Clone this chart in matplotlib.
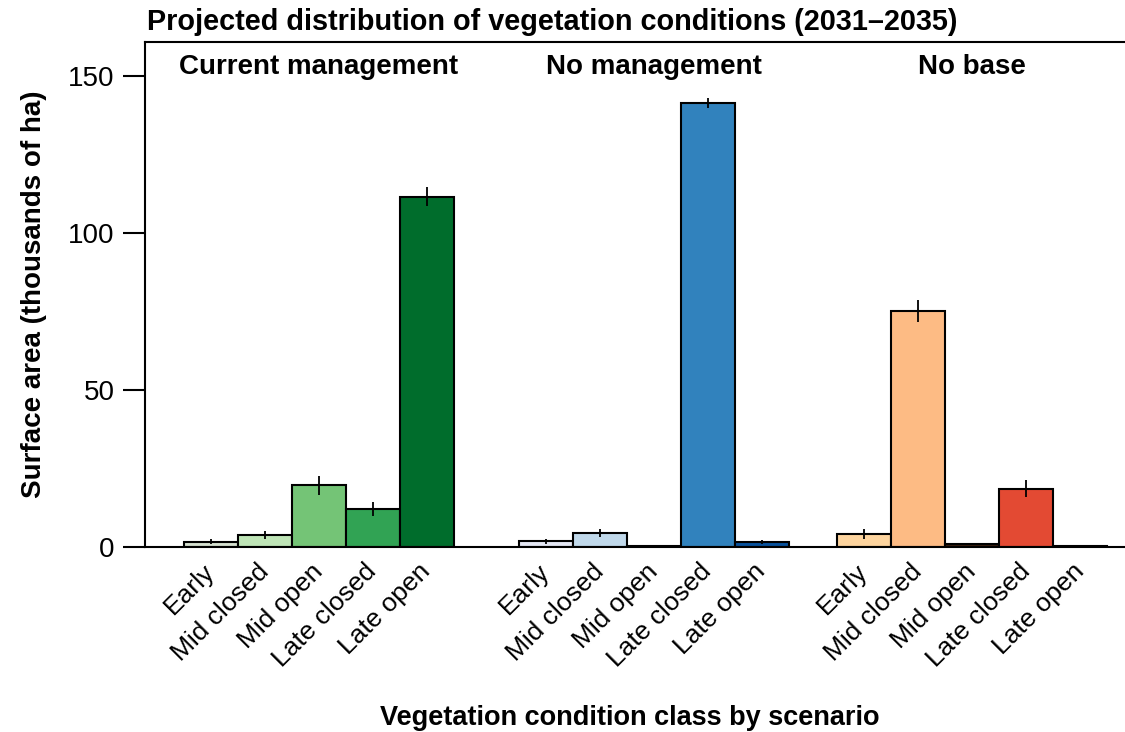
import matplotlib
matplotlib.use("Agg")
import matplotlib.pyplot as plt
import numpy as np

plt.rcParams['font.family'] = ['Liberation Sans', 'DejaVu Sans']

classes = ["Early", "Mid closed", "Mid open", "Late closed", "Late open"]
scenarios = ["Current management", "No management", "No base"]

# surface area (thousands of ha) and error half-widths
current_mgmt = [1.6, 3.8, 19.7, 12.1, 111.5]
current_err = [0.8, 1.3, 3.0, 2.2, 3.0]
no_mgmt = [1.8, 4.5, 0.3, 141.4, 1.6]
no_mgmt_err = [0.8, 1.2, 0.2, 1.5, 0.5]
no_base = [4.1, 75.2, 1.0, 18.5, 0.3]
no_base_err = [1.5, 3.5, 0.4, 2.7, 0.2]

green_cols = ["#d5e0cf", "#bfe5b7", "#74c476", "#31a354", "#006d2c"]
blue_cols = ["#e4e7f4", "#c0d8ea", "#ffffff", "#3182bd", "#08519c"]
red_cols = ["#fdd49e", "#fdbb84", "#3b1e0e", "#e34a33", "#ffffff"]

values = [current_mgmt, no_mgmt, no_base]
errors = [current_err, no_mgmt_err, no_base_err]
colours = [green_cols, blue_cols, red_cols]
offsets = [0.0, 6.2, 12.1]   # group start positions (bar units)

fig = plt.figure(figsize=(11.25, 7.32), dpi=100)
ax = fig.add_axes([145/1125, 1 - 547/732, 1 - 145/1125, (547 - 42)/732])

ticks = []
labels = []
for g in range(3):
    x = offsets[g] + np.arange(len(classes))
    ax.bar(x, values[g], width=1.0, color=colours[g], edgecolor="black", linewidth=1.5, zorder=2)
    ax.errorbar(x, values[g], yerr=errors[g], fmt="none", ecolor="black", elinewidth=1.3, capsize=0, zorder=3)
    ax.text(x.mean(), 152.9, scenarios[g], ha="center", va="center", fontsize=20, fontweight="bold")
    ticks.extend(x)
    labels.extend(classes)

ax.set_xlim(-1.222, 16.926)
ax.set_ylim(0, 160.8)
ax.set_yticks([0, 50, 100, 150])
ax.tick_params(axis="y", length=16, width=1.5, labelsize=20, pad=6)
ax.set_xticks(ticks)
ax.set_xticklabels(labels, rotation=45, ha="right", va="center", rotation_mode="anchor", fontsize=19)
ax.tick_params(axis="x", length=0, pad=15)

ax.spines["right"].set_visible(False)
for s in ["left", "top", "bottom"]:
    ax.spines[s].set_linewidth(1.5)

ax.set_ylabel("Surface area (thousands of ha)", fontsize=20, fontweight="bold")
ax.yaxis.set_label_coords(-0.1, 0.5)
fig.text(630/1125, 1 - 718/732, "Vegetation condition class by scenario", ha="center", va="center",
         fontsize=19.5, fontweight="bold")
fig.text(147/1125, 1 - 22/732, "Projected distribution of vegetation conditions (2031\u20132035)",
         ha="left", va="center", fontsize=20.8, fontweight="bold")

fig.savefig("out.png", dpi=100)
